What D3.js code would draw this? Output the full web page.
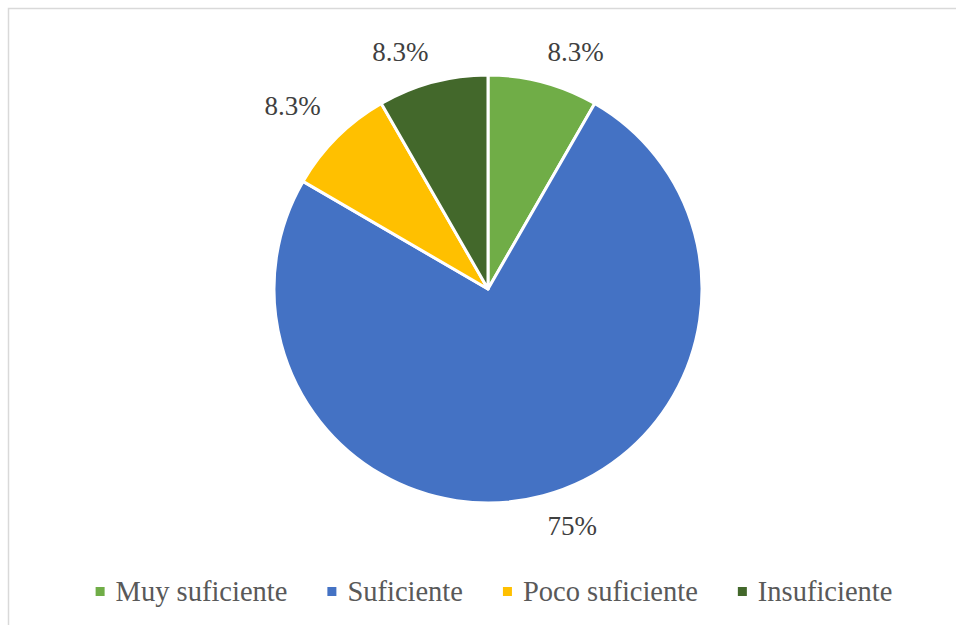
<!DOCTYPE html>
<html>
<head>
    <script type="text/javascript" src="https://cdn.jsdelivr.net/npm/d3@7"></script>
    <style>
        body { margin: 0; background: #fff; }
    </style>
</head>
<body>
    <div id="chart"></div>

    <script type="text/javascript">
    var categories = ["Muy suficiente", "Suficiente", "Poco suficiente", "Insuficiente"];
    var values = [8.3, 75, 8.3, 8.3];
    var colors = ["#70AD47", "#4472C4", "#FFC000", "#43682B"];

    var width = 956, height = 625;
    var cx = 488, cy = 289, radius = 214;
    var serif = "Liberation Serif";

    var svg = d3.select("#chart")
        .append("svg")
        .attr("width", width)
        .attr("height", height);

    // frame (only top and left edges are in view)
    svg.append("rect")
        .attr("x", 8.5).attr("y", 8.5)
        .attr("width", 1000).attr("height", 1000)
        .attr("fill", "none")
        .attr("stroke", "#d9d9d9")
        .attr("stroke-width", 1.5);

    var pie = d3.pie().sort(null).value(function(d) { return d; });
    var arcs = pie(values);

    var arc = d3.arc().innerRadius(0).outerRadius(radius);

    var g = svg.append("g").attr("transform", "translate(" + cx + "," + cy + ")");

    g.selectAll("path").data(arcs)
      .enter().append("path")
        .attr("d", arc)
        .attr("fill", function(d, i) { return colors[i]; })
        .attr("stroke", "#fff")
        .attr("stroke-width", 3)
        .attr("stroke-linejoin", "round");

    // labels outside end: box corner touches a point just beyond the rim
    g.selectAll("text.lbl").data(arcs)
      .enter().append("text")
        .attr("class", "lbl")
        .attr("font-family", serif)
        .attr("font-size", 27)
        .attr("fill", "#404040")
        .attr("text-anchor", "middle")
        .text(function(d) { return d.data + "%"; })
        .each(function(d) {
            var t = d3.select(this);
            var bb = this.getBBox();
            var a = (d.startAngle + d.endAngle) / 2;
            var r = 228 + 9 * Math.pow(Math.sin(2 * a), 2);
            var px = r * Math.sin(a), py = -r * Math.cos(a);
            var x = px + (Math.sin(a) >= 0 ? bb.width / 2 : -bb.width / 2);
            var y = py + (Math.cos(a) >= 0 ? -bb.height / 2 : bb.height / 2);
            t.attr("x", x).attr("y", y + 9);
        });

    // legend
    var legend = svg.append("g");
    var x = 0;
    categories.forEach(function(c, i) {
        var it = legend.append("g");
        it.append("rect")
            .attr("x", 0).attr("y", -14)
            .attr("width", 9).attr("height", 9)
            .attr("fill", colors[i]);
        var t = it.append("text")
            .attr("x", 20).attr("y", 0)
            .attr("font-family", serif)
            .attr("font-size", 28.5)
            .attr("fill", "#595959")
            .text(c);
        var w = 20 + t.node().getComputedTextLength();
        it.attr("transform", "translate(" + x + ",0)");
        x += w + 40;
    });
    var total = x - 40;
    legend.attr("transform", "translate(" + (494 - total / 2) + ",601)");
    </script>
</body>
</html>
